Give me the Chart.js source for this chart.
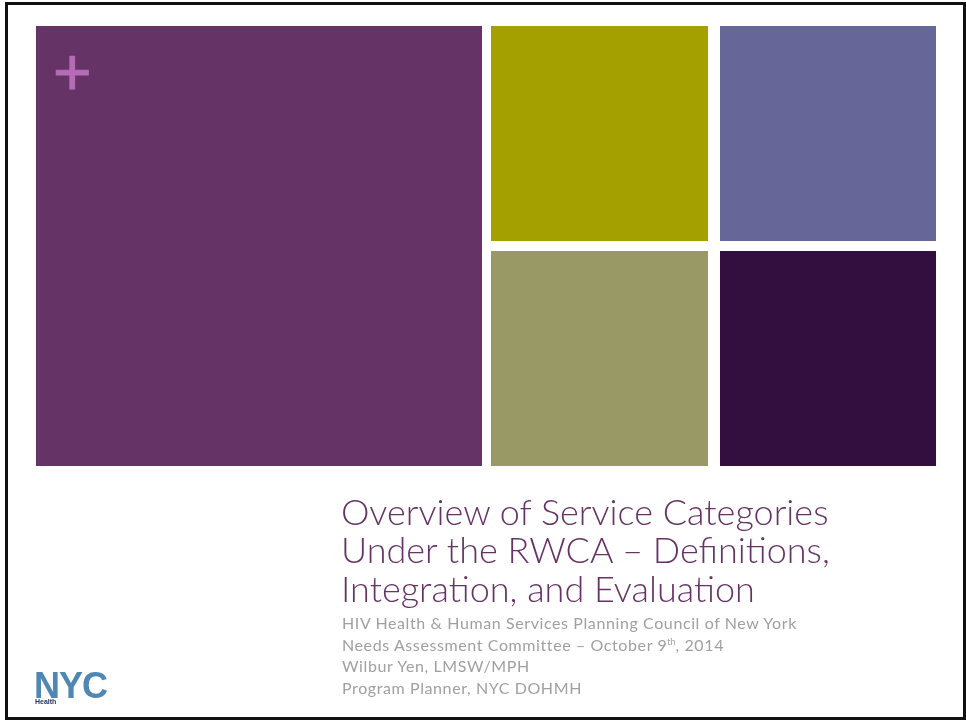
<!DOCTYPE html>
<html>
<head>
<meta charset="utf-8">
<script src="https://cdn.jsdelivr.net/npm/chart.js@4.4.1/dist/chart.umd.min.js"></script>
<style>
  html, body { margin: 0; padding: 0; background: #fff; }
  #slide { position: relative; width: 966px; height: 721px; overflow: hidden; }
  #tiles { position: absolute; left: 0; top: 0; }
  #frame { position: absolute; left: 5px; top: 2px; width: 961px; height: 718px;
           box-sizing: border-box; border: 3px solid #111; pointer-events: none; }
  #plus { position: absolute; left: 53px; top: 39px; font: 66px "Liberation Sans", Arial, sans-serif;
          color: #b56cb8; line-height: 66px; -webkit-text-stroke: 1px #b56cb8; }
  .tl { position: absolute; left: 341px; color: #663366; font: 300 36px Lato, sans-serif;
        line-height: 38px; white-space: nowrap; }
  .sl { position: absolute; left: 342px; color: #a0a0a0; font: 16px Lato, sans-serif;
        letter-spacing: 0.6px; line-height: 18px; white-space: nowrap; }
  .sl sup { font-size: 9px; line-height: 0; letter-spacing: 0; }
  #nyc { position: absolute; left: 34px; top: 666px; color: #4f87b3;
         font: 900 36px "Liberation Sans", Arial, sans-serif; letter-spacing: -1px; line-height: 40px; }
  #health { position: absolute; left: 35px; top: 698px; color: #1d2f5c;
            font: bold 7px "Liberation Sans", Arial, sans-serif; line-height: 8px; }
</style>
</head>
<body>
<div id="slide">
  <canvas id="tiles" width="966" height="721"></canvas>
  <div id="plus">+</div>
  <div class="tl" style="top:492px">Overview of Service Categories</div>
  <div class="tl" style="top:530px">Under the RWCA – Definitions,</div>
  <div class="tl" style="top:569px">Integration, and Evaluation</div>
  <div class="sl" style="top:614px">HIV Health &amp; Human Services Planning Council of New York</div>
  <div class="sl" style="top:636px">Needs Assessment Committee – October 9<sup>th</sup>, 2014</div>
  <div class="sl" style="top:657px">Wilbur Yen, LMSW/MPH</div>
  <div class="sl" style="top:679px">Program Planner, NYC DOHMH</div>
  <div id="nyc">NYC</div>
  <div id="health">Health</div>
  <div id="frame"></div>
</div>
<script>
// tile blocks of the slide, in slide units (0..966 across, 0..721 down)
const tileNames = ["main", "olive", "slate", "khaki", "plum"];
const tileLeft = [36, 491, 720, 491, 720];
const tileRight = [482, 708, 936, 708, 936];
const tileTop = [26, 26, 26, 251, 251];
const tileBottom = [466, 241, 241, 466, 466];
const tileColors = ["#653366", "#a3a000", "#666699", "#999966", "#330f40"];

const tilesCanvas = document.getElementById("tiles");

// draws each tile as a box mapped through the x / y scales
const tilePlugin = {
    id: "tileBoxes",
    afterDatasetsDraw(chart) {
        const ctx = chart.ctx;
        const xs = chart.scales.x;
        const ys = chart.scales.y;
        chart.data.datasets[0].data.forEach((d, i) => {
            const x0 = xs.getPixelForValue(d.x0);
            const x1 = xs.getPixelForValue(d.x1);
            const y0 = ys.getPixelForValue(d.y0);
            const y1 = ys.getPixelForValue(d.y1);
            ctx.save();
            ctx.fillStyle = tileColors[i];
            ctx.fillRect(x0, y0, x1 - x0, y1 - y0);
            ctx.restore();
        });
    }
};

new Chart(tilesCanvas, {
    type: "scatter",
    data: {
        datasets: [{
            label: "tiles",
            data: tileNames.map((n, i) => ({
                x: (tileLeft[i] + tileRight[i]) / 2,
                y: (tileTop[i] + tileBottom[i]) / 2,
                x0: tileLeft[i], x1: tileRight[i],
                y0: tileTop[i], y1: tileBottom[i]
            })),
            pointRadius: 0
        }]
    },
    options: {
        responsive: false,
        devicePixelRatio: 1,
        animation: false,
        layout: { padding: 0 },
        plugins: { legend: { display: false }, tooltip: { enabled: false } },
        scales: {
            x: { type: "linear", min: 0, max: 966, display: false },
            y: { type: "linear", min: 0, max: 721, reverse: true, display: false }
        }
    },
    plugins: [tilePlugin]
});
</script>
</body>
</html>
